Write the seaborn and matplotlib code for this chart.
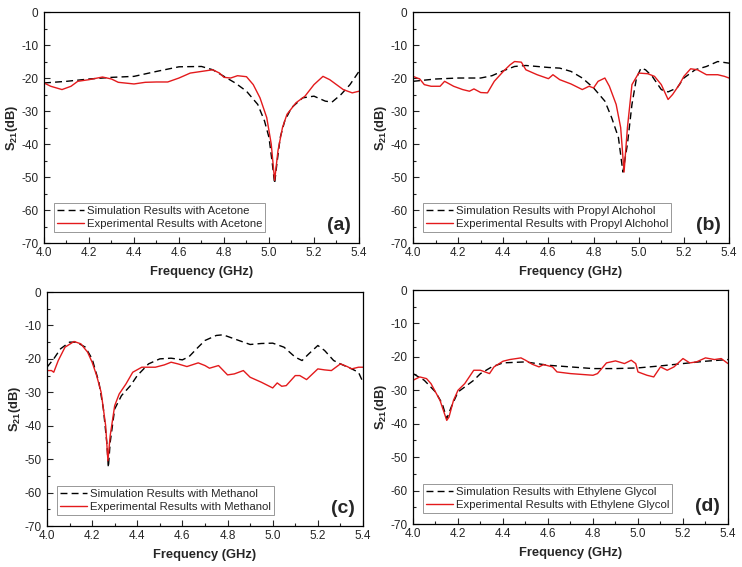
import matplotlib
matplotlib.use("Agg")
import matplotlib.pyplot as plt
import pandas as pd
import seaborn as sns
from matplotlib.ticker import MultipleLocator

sns.set_style("ticks")
plt.rcParams['font.family'] = ['Liberation Sans', 'DejaVu Sans']
plt.rcParams['mathtext.fontset'] = 'custom'
plt.rcParams['mathtext.bf'] = 'Liberation Sans:bold'
plt.rcParams['mathtext.rm'] = 'Liberation Sans'
plt.rcParams['axes.unicode_minus'] = False

# (a) Acetone
a_sim_f = [4.0, 4.1, 4.2, 4.3, 4.4, 4.5, 4.6, 4.7, 4.75, 4.8, 4.85, 4.9, 4.95, 4.98, 5.0, 5.015,
           5.025, 5.035, 5.05, 5.07, 5.1, 5.15, 5.2, 5.25, 5.28, 5.32, 5.36, 5.4]
a_sim_s = [-21.5, -21.0, -20.3, -19.8, -19.5, -18.0, -16.6, -16.5, -17.5, -19.5, -21.5, -24.0, -28.0,
           -33.0, -38.0, -46.0, -52.0, -46.0, -38.0, -33.0, -29.0, -26.0, -25.5, -27.0, -27.3, -25.0,
           -22.0, -18.0]
a_exp_f = [4.0, 4.03, 4.08, 4.12, 4.15, 4.2, 4.26, 4.3, 4.33, 4.4, 4.45, 4.5, 4.55, 4.6, 4.65, 4.7,
           4.75, 4.78, 4.8, 4.83, 4.86, 4.9, 4.93, 4.96, 4.99, 5.01, 5.025, 5.04, 5.06, 5.08, 5.12,
           5.16, 5.2, 5.24, 5.27, 5.3, 5.33, 5.37, 5.4]
a_exp_s = [-21.5, -22.5, -23.5, -22.5, -21.0, -20.5, -19.7, -20.3, -21.3, -21.8, -21.3, -21.2, -21.2,
           -20.0, -18.5, -18.0, -17.5, -18.5, -19.8, -20.0, -19.3, -19.6, -22.0, -26.0, -32.0, -40.0,
           -51.0, -42.0, -35.0, -31.0, -27.5, -25.5, -22.0, -19.5, -20.5, -22.0, -23.5, -24.5, -24.0]

# (b) Propyl Alchohol
b_sim_f = [4.0, 4.1, 4.2, 4.3, 4.35, 4.4, 4.45, 4.5, 4.6, 4.65, 4.7, 4.75, 4.8, 4.85, 4.88, 4.91,
           4.93, 4.95, 4.97, 4.99, 5.01, 5.03, 5.06, 5.1, 5.13, 5.17, 5.2, 5.25, 5.3, 5.35, 5.4]
b_sim_s = [-21.0, -20.3, -20.0, -20.0, -19.3, -17.8, -16.5, -16.2, -16.8, -17.0, -18.0, -20.0, -23.0,
           -27.0, -32.0, -38.0, -48.5, -40.0, -28.0, -20.0, -17.0, -17.5, -19.5, -23.5, -24.2, -23.0,
           -20.0, -17.5, -16.5, -15.0, -15.5]
b_exp_f = [4.0, 4.03, 4.05, 4.08, 4.12, 4.14, 4.18, 4.22, 4.25, 4.27, 4.3, 4.33, 4.36, 4.4, 4.43,
           4.45, 4.48, 4.5, 4.55, 4.6, 4.62, 4.65, 4.7, 4.75, 4.78, 4.8, 4.82, 4.85, 4.87, 4.9, 4.92,
           4.935, 4.95, 4.97, 5.0, 5.04, 5.07, 5.1, 5.13, 5.15, 5.18, 5.2, 5.23, 5.26, 5.3, 5.35,
           5.38, 5.4]
b_exp_s = [-19.5, -20.3, -22.0, -22.5, -22.5, -21.0, -22.5, -23.5, -24.0, -23.3, -24.4, -24.5, -21.0,
           -18.0, -16.0, -15.0, -15.2, -17.5, -19.0, -20.2, -19.0, -20.5, -21.8, -23.5, -22.5, -23.0,
           -21.0, -20.0, -22.5, -28.0, -35.0, -48.5, -35.0, -22.0, -18.5, -18.7, -19.5, -22.0, -26.5,
           -25.0, -22.0, -19.5, -17.2, -17.5, -19.0, -19.0, -19.5, -20.0]

# (c) Methanol
c_sim_f = [4.0, 4.03, 4.06, 4.1, 4.13, 4.17, 4.2, 4.23, 4.25, 4.265, 4.272, 4.28, 4.3, 4.33, 4.37,
           4.4, 4.45, 4.5, 4.55, 4.6, 4.63, 4.67, 4.7, 4.75, 4.78, 4.85, 4.9, 4.95, 5.0, 5.05, 5.1,
           5.13, 5.16, 5.2, 5.23, 5.27, 5.3, 5.35, 5.38, 5.4]
c_sim_s = [-22.5, -20.0, -17.0, -15.0, -15.0, -16.5, -20.0, -27.0, -35.0, -45.0, -52.5, -45.0, -35.0,
           -31.0, -28.0, -25.0, -21.5, -20.0, -19.8, -20.3, -19.3, -16.5, -14.5, -13.0, -12.8, -14.5,
           -15.7, -15.4, -15.3, -16.5, -19.5, -20.5, -18.5, -16.0, -17.5, -20.5, -21.5, -23.0, -24.0,
           -27.0]
c_exp_f = [4.0, 4.02, 4.03, 4.05, 4.08, 4.12, 4.15, 4.18, 4.2, 4.22, 4.24, 4.26, 4.27, 4.28, 4.3,
           4.32, 4.35, 4.38, 4.42, 4.48, 4.52, 4.55, 4.58, 4.62, 4.67, 4.7, 4.72, 4.76, 4.8, 4.83,
           4.87, 4.9, 4.95, 5.0, 5.02, 5.04, 5.06, 5.1, 5.12, 5.15, 5.2, 5.23, 5.26, 5.3, 5.33, 5.35,
           5.38, 5.4]
c_exp_s = [-23.5, -23.5, -24.0, -20.5, -16.5, -14.8, -15.5, -18.0, -21.0, -25.0, -30.0, -40.0, -50.5,
           -43.0, -34.0, -30.5, -27.5, -24.0, -22.5, -22.5, -21.8, -21.0, -21.5, -22.3, -21.2, -22.0,
           -22.8, -22.0, -24.8, -24.5, -23.5, -25.5, -27.0, -28.7, -27.2, -28.2, -28.0, -25.0, -25.0,
           -26.2, -23.0, -23.3, -23.5, -21.5, -22.3, -23.0, -22.5, -22.5]

# (d) Ethylene Glycol
d_sim_f = [4.0, 4.05, 4.1, 4.13, 4.15, 4.17, 4.2, 4.24, 4.27, 4.3, 4.35, 4.4, 4.5, 4.6, 4.7, 4.8,
           4.9, 5.0, 5.1, 5.2, 5.3, 5.4]
d_sim_s = [-25.0, -27.0, -30.5, -34.0, -38.5, -35.0, -30.5, -28.5, -27.0, -25.0, -23.0, -21.8, -21.5,
           -22.5, -23.0, -23.5, -23.5, -23.3, -22.7, -22.0, -21.3, -20.8]
d_exp_f = [4.0, 4.03, 4.06, 4.08, 4.1, 4.12, 4.14, 4.15, 4.16, 4.18, 4.2, 4.23, 4.25, 4.27, 4.3,
           4.32, 4.34, 4.36, 4.4, 4.43, 4.46, 4.48, 4.5, 4.53, 4.56, 4.58, 4.62, 4.64, 4.7, 4.8, 4.82,
           4.86, 4.9, 4.94, 4.97, 4.99, 5.0, 5.04, 5.07, 5.1, 5.13, 5.16, 5.2, 5.23, 5.26, 5.3, 5.34,
           5.37, 5.4]
d_exp_s = [-27.0, -26.0, -26.5, -28.0, -30.5, -33.0, -37.0, -39.0, -38.0, -33.0, -30.0, -28.0, -26.0,
           -24.0, -24.0, -24.5, -25.0, -23.0, -21.3, -20.8, -20.5, -20.3, -21.0, -22.2, -23.0, -22.3,
           -23.0, -24.5, -25.0, -25.5, -25.0, -21.8, -21.2, -22.0, -21.0, -22.0, -24.5, -25.5, -26.0,
           -23.0, -24.0, -23.0, -20.5, -21.8, -21.5, -20.3, -20.8, -20.5, -22.0]

panels = [
    ("(a)", "Acetone", a_sim_f, a_sim_s, a_exp_f, a_exp_s, [0.0593, 0.5714, 0.4245, 0.4074]),
    ("(b)", "Propyl Alchohol", b_sim_f, b_sim_s, b_exp_f, b_exp_s, [0.5566, 0.5714, 0.4259, 0.4074]),
    ("(c)", "Methanol", c_sim_f, c_sim_s, c_exp_f, c_exp_s, [0.0633, 0.0723, 0.4259, 0.4127]),
    ("(d)", "Ethylene Glycol", d_sim_f, d_sim_s, d_exp_f, d_exp_s, [0.5566, 0.0758, 0.4245, 0.4127]),
]

fig = plt.figure(figsize=(7.42, 5.67), dpi=100)

for tag, name, sf, ss, ef, es, pos in panels:
    ax = fig.add_axes(pos)
    sim = pd.DataFrame({'f': sf, 's': ss})
    exp = pd.DataFrame({'f': ef, 's': es})
    sns.lineplot(data=sim, x='f', y='s', ax=ax, color='black', linewidth=1.0,
                 dashes=False, label=f"Simulation Results with {name}")
    ax.lines[-1].set_dashes((5, 3))
    sns.lineplot(data=exp, x='f', y='s', ax=ax, color='#e31a1c', linewidth=1.0,
                 label=f"Experimental Results with {name}")

    ax.set_xlim(4.0, 5.4)
    ax.set_ylim(-70, 0)
    ax.xaxis.set_major_locator(MultipleLocator(0.2))
    ax.xaxis.set_minor_locator(MultipleLocator(0.1))
    ax.yaxis.set_major_locator(MultipleLocator(10))
    ax.yaxis.set_minor_locator(MultipleLocator(5))
    ax.set_xticklabels([f"{v:.1f}" for v in ax.get_xticks()])
    ax.tick_params(axis='both', which='major', direction='in', length=4, width=0.8,
                   labelsize=8.5, top=False, right=False)
    ax.tick_params(axis='x', which='major', pad=3)
    ax.tick_params(axis='y', which='major', pad=4)
    ax.tick_params(axis='both', which='minor', direction='in', length=2, width=0.8,
                   top=False, right=False)
    for sp in ax.spines.values():
        sp.set_visible(True)
        sp.set_linewidth(0.9)
        sp.set_color('black')

    ax.set_xlabel("Frequency (GHz)", fontsize=9.3, fontweight='bold', labelpad=5)
    ax.set_ylabel(r"$\mathbf{S_{21}}$(dB)", fontsize=9.3, fontweight='bold', labelpad=1)

    leg = ax.legend(loc='lower left', bbox_to_anchor=(0.032, 0.048), fontsize=8.2,
                    frameon=True, fancybox=False, framealpha=1, edgecolor='#888888',
                    handlelength=2.4, handletextpad=0.25, borderpad=0.25, labelspacing=0.3,
                    borderaxespad=0)
    leg.get_frame().set_linewidth(0.6)

    ax.text(0.975, 0.04, tag, transform=ax.transAxes, ha='right', va='bottom',
            fontsize=14, fontweight='bold')

fig.savefig('out.png', dpi=100)
